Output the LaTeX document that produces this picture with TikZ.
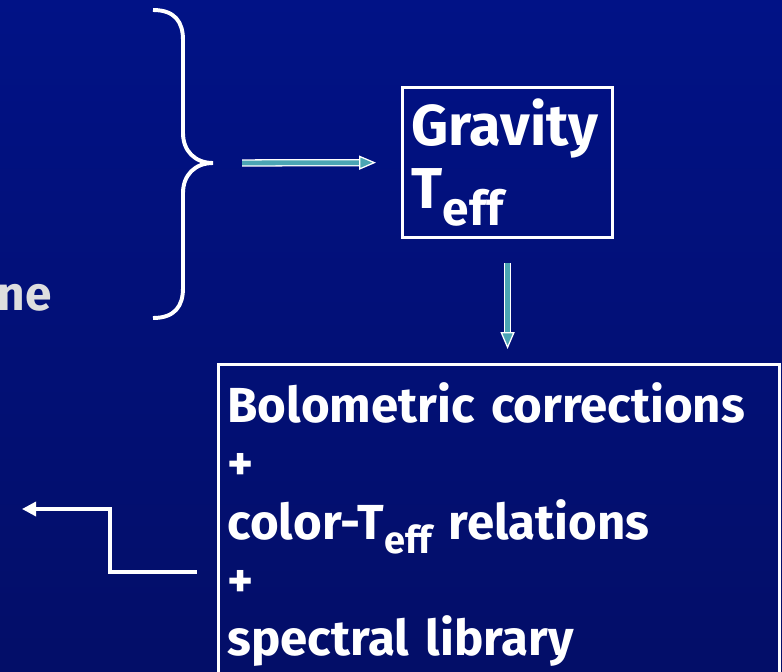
\documentclass[tikz,border=0pt]{standalone}
\usepackage{fontspec}
\setmainfont{Fira Sans}
\usetikzlibrary{
    arrows.meta,
    positioning,
    calc
}

\definecolor{bgtop}{RGB}{1,18,134}
\definecolor{bgmid}{RGB}{0,32,170}
\definecolor{bgbot}{RGB}{3,14,104}
\definecolor{arrowteal}{RGB}{75,165,180}
\definecolor{fadedtext}{RGB}{222,222,222}

% T with a lowered "eff" subscript: #1 = size, #2 = drop
\newcommand{\teff}[2]{T\raisebox{-#2}{\fontsize{#1}{#1}\selectfont eff}}

\tikzset{
    % --- White outlined box (stage of the chain) ---
    stagebox/.style = {
        rectangle, draw=white, line width=2.2pt,
        text=white, font=\bfseries, align=left,
        inner xsep=0.225cm
    },
    % --- Teal block arrow with white rim ---
    teal arrow/.style = {
        draw=white, line width=0.9pt,
        double=arrowteal, double distance=3.4pt,
        -{Triangle[length=12pt, width=10pt, fill=arrowteal, line width=0.9pt]}
    },
    % --- Plain white return arrow ---
    ret arrow/.style = {
        draw=white, line width=2.3pt,
        -{Triangle[length=10pt, width=10pt]}
    },
    % --- Curly brace stroke ---
    brace line/.style = {
        draw=white, line width=2.8pt
    }
}

\begin{document}
\begin{tikzpicture}[x=0.025cm, y=-0.025cm]

\useasboundingbox (0,0) rectangle (782,671);
\clip (0,0) rectangle (782,671);

% ---------------------------------------------------------
% Background
% ---------------------------------------------------------
\shade[top color=bgtop, middle color=bgmid, bottom color=bgbot]
    (0,0) rectangle (782,671);

% Cut-off word at the left edge
\node[font=\bfseries\fontsize{34}{40}\selectfont, text=fadedtext,
      anchor=base east, inner sep=0pt] (cutoff) at (52,310) {ne};

% ---------------------------------------------------------
% Curly brace
% ---------------------------------------------------------
\coordinate (bracetip) at (213,163);
\draw[brace line] (153,10) .. controls (175,10) and (183,22) .. (183,40)
    -- (183,133) .. controls (183,151) and (195,163) .. (bracetip)
    .. controls (195,163) and (183,175) .. (183,193)
    -- (183,288) .. controls (183,306) and (175,318) .. (153,318);

% ---------------------------------------------------------
% Stage boxes
% ---------------------------------------------------------
\node[stagebox, anchor=north west, minimum width=5.25cm, minimum height=3.75cm,
      text width=4.8cm, font=\bfseries\fontsize{41}{45}\selectfont]
    (grav) at (401,86) {Gravity\\\teff{34}{0.3em}};

\node[stagebox, anchor=north west, text width=13.575cm, inner ysep=0.45cm,
      font=\bfseries\fontsize{35}{41.5}\selectfont]
    (bolo) at (217,363) {%
    Bolometric corrections\\
    +\\
    color-\teff{27}{0.3em} relations\\
    +\\
    spectral library};

% ---------------------------------------------------------
% Arrows
% ---------------------------------------------------------
\draw[teal arrow, shorten <=0.725cm, shorten >=0.625cm] (bracetip) -- (grav.west);
\draw[teal arrow, shorten <=0.6cm, shorten >=0.35cm] (grav.south) -- (grav.south |- bolo.north);

\coordinate (retend) at (22,509);
\draw[ret arrow, shorten <=0.5cm] (bolo.west |- 0,572) -| (110,509) -- (retend);

\end{tikzpicture}
\end{document}
